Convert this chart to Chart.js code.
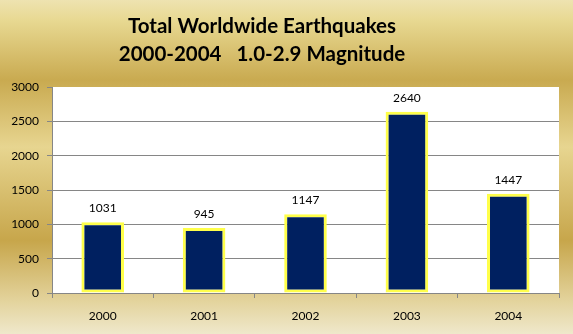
<!DOCTYPE html>
<html>
<head>
<meta charset="utf-8">
<script src="https://cdn.jsdelivr.net/npm/chart.js@4/dist/chart.umd.min.js"></script>
<style>
    html, body { margin: 0; padding: 0; background: #fff; }
    canvas { display: block; }
</style>
</head>
<body>
<canvas id="quakeChart" width="573" height="334"></canvas>
<script>
const years = ["2000", "2001", "2002", "2003", "2004"]
const quakeCounts = [1031, 945, 1147, 2640, 1447]
const titleLines = ["Total Worldwide Earthquakes", "2000-2004   1.0-2.9 Magnitude"]
const yTicks = [0, 500, 1000, 1500, 2000, 2500, 3000]

const FONT = "Lato, 'Open Sans', sans-serif"

// gold backdrop + white plot area
const backdrop = {
    id: "backdrop",
    beforeDraw(chart) {
        const { ctx, width, height, chartArea } = chart
        const grad = ctx.createLinearGradient(0, 0, 0, height)
        grad.addColorStop(0, "#eee3b0")
        grad.addColorStop(0.06, "#e8d992")
        grad.addColorStop(0.24, "#c9aa50")
        grad.addColorStop(0.44, "#e7d590")
        grad.addColorStop(0.72, "#c7a64b")
        grad.addColorStop(0.9, "#e3d39c")
        grad.addColorStop(1, "#efe8cb")
        ctx.save()
        ctx.fillStyle = grad
        ctx.fillRect(0, 0, width, height)
        ctx.fillStyle = "#ffffff"
        ctx.fillRect(chartArea.left, chartArea.top, chartArea.right - chartArea.left, chartArea.bottom - chartArea.top)
        ctx.restore()
    },
}

const chartTitle = {
    id: "chartTitle",
    afterDraw(chart) {
        const { ctx } = chart
        ctx.save()
        ctx.font = `bold 20.5px ${FONT}`
        ctx.fillStyle = "#000"
        ctx.textAlign = "center"
        ctx.textBaseline = "middle"
        titleLines.forEach((line, i) => ctx.fillText(line, 262, 26 + i * 28))
        ctx.restore()
    },
}

const valueLabels = {
    id: "valueLabels",
    afterDatasetsDraw(chart) {
        const { ctx } = chart
        const meta = chart.getDatasetMeta(0)
        ctx.save()
        ctx.font = `12px ${FONT}`
        ctx.fillStyle = "#000"
        ctx.textAlign = "center"
        ctx.textBaseline = "middle"
        meta.data.forEach((bar, i) => {
            ctx.fillText(String(quakeCounts[i]), bar.x, bar.y - 14)
        })
        ctx.restore()
    },
}

new Chart(document.getElementById("quakeChart"), {
    type: "bar",
    data: {
        labels: years,
        datasets: [
            {
                data: quakeCounts,
                backgroundColor: "#002060",
                borderColor: "#ffff4a",
                borderWidth: 3,
                borderSkipped: false,
                barPercentage: 0.42,
                categoryPercentage: 1,
            },
        ],
    },
    options: {
        responsive: false,
        animation: false,
        layout: { padding: { top: 87, right: 14, left: 0, bottom: 0 } },
        plugins: {
            legend: { display: false },
            title: { display: false },
            tooltip: { enabled: false },
        },
        scales: {
            x: {
                afterFit: (s) => { s.height = 41 },
                grid: {
                    offset: true,
                    drawOnChartArea: false,
                    drawTicks: true,
                    tickLength: 5,
                    tickColor: "#868686",
                },
                border: { color: "#868686" },
                ticks: { color: "#000", font: { family: FONT, size: 12 }, padding: 11 },
            },
            y: {
                min: 0,
                max: 3000,
                afterFit: (s) => { s.width = 52 },
                afterBuildTicks: (s) => { s.ticks = yTicks.map((v) => ({ value: v })) },
                grid: {
                    color: (c) => (c.tick && c.tick.value === 3000 ? "rgba(0,0,0,0)" : "#868686"),
                    tickColor: "#868686",
                    tickLength: 5,
                },
                border: { color: "#868686" },
                ticks: {
                    color: "#000",
                    font: { family: FONT, size: 12 },
                    padding: 8,
                    callback: (v) => String(v),
                },
            },
        },
    },
    plugins: [backdrop, chartTitle, valueLabels],
})
</script>
</body>
</html>
